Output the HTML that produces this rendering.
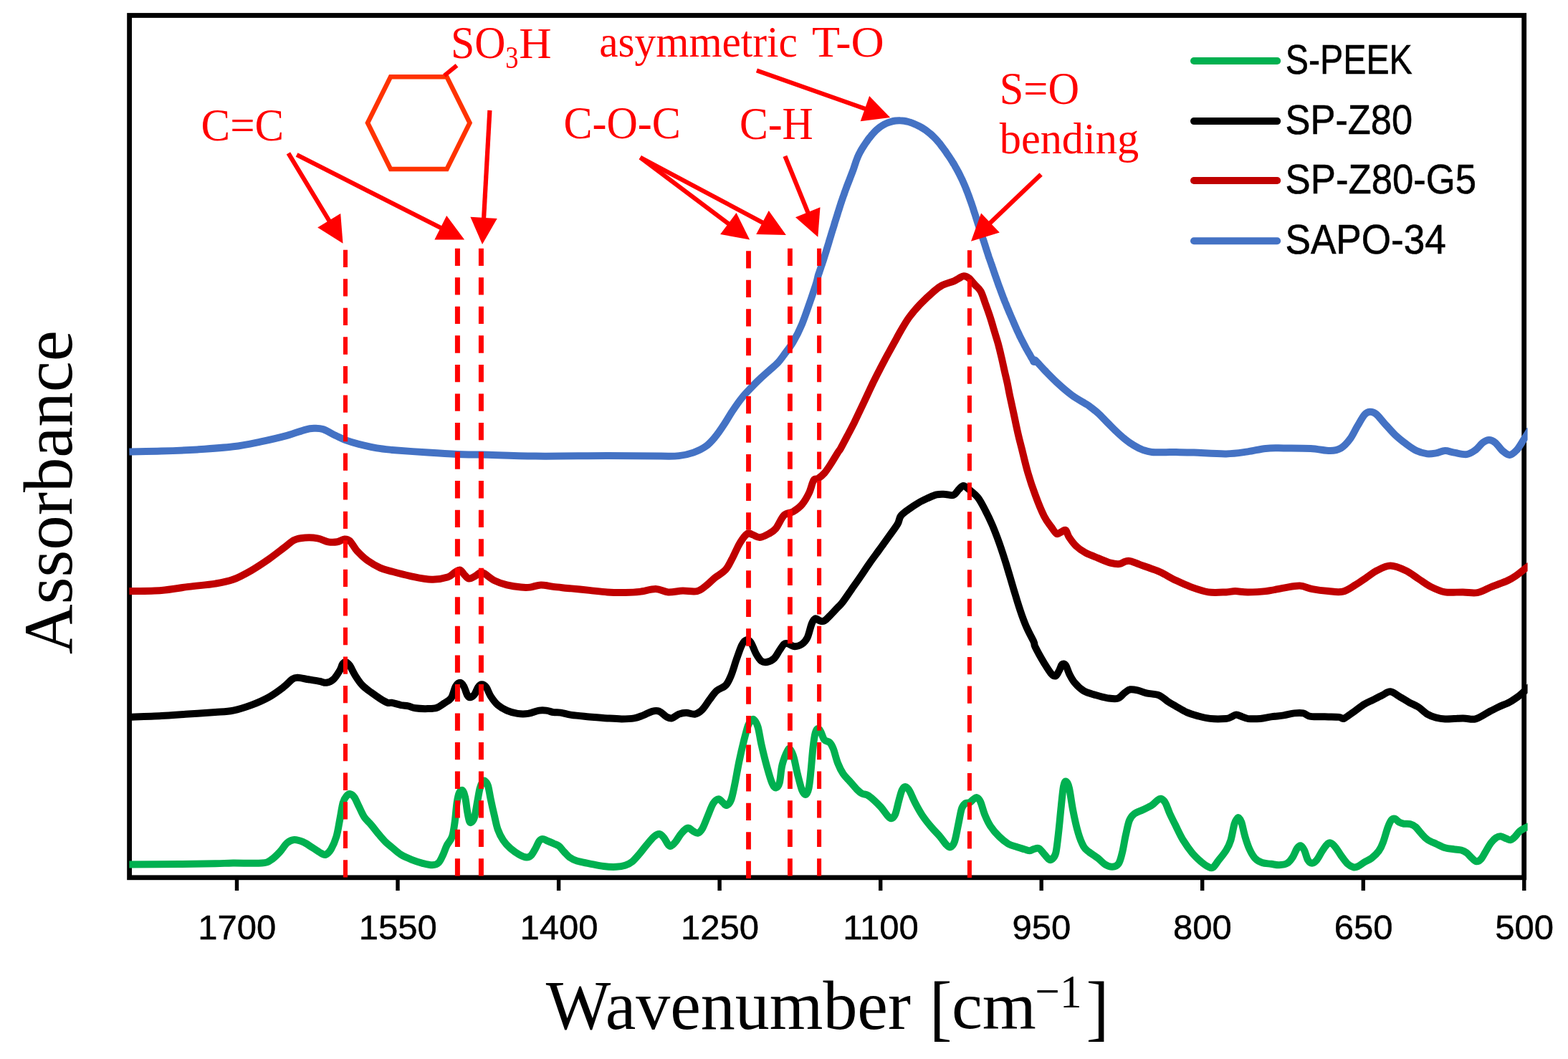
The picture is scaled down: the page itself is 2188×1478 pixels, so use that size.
<!DOCTYPE html>
<html lang="en"><head><meta charset="utf-8"><title>FTIR spectra</title>
<style>html,body{margin:0;padding:0;background:#fff}body{width:2188px;height:1478px;overflow:hidden}svg{display:block}.ser{font-family:"Liberation Serif",serif}.san{font-family:"Liberation Sans",sans-serif}.c{fill:none;stroke-width:10;stroke-linejoin:round;stroke-linecap:butt}</style></head><body>
<svg xmlns="http://www.w3.org/2000/svg" width="2188" height="1478" viewBox="0 0 2188 1478">
<rect width="2188" height="1478" fill="#fff"/>
<rect x="180.6" y="21.5" width="1946.1" height="1203.3" fill="none" stroke="#000" stroke-width="6.8"/>
<clipPath id="cp"><rect x="180.2" y="0" width="1951.4" height="1478"/></clipPath>
<g class="c" clip-path="url(#cp)">
<path d="M180.2,630.4C187.8,630.2 209.5,630.1 225.3,629.6C241.2,629.1 258.7,628.4 275.4,627.4C292.1,626.3 310.8,625.1 325.4,623.3C340.0,621.6 350.5,619.2 363.0,616.6C375.5,614.0 390.1,610.6 400.5,607.8C411.0,605.0 419.3,601.5 425.6,599.8C431.8,598.1 433.9,597.9 438.1,597.8C442.3,597.7 445.6,597.4 450.6,599.1C455.6,600.7 462.9,605.3 468.1,607.8C473.4,610.3 476.5,612.1 481.9,614.1C487.3,616.1 493.4,618.0 500.7,619.8C508.0,621.7 518.0,624.0 525.7,625.4C533.4,626.7 535.1,626.8 547.0,627.9C558.9,628.9 581.8,630.6 597.1,631.6C612.3,632.7 625.9,633.6 638.4,634.1C650.9,634.6 654.0,634.2 672.2,634.6C690.3,635.0 718.1,636.4 747.3,636.6C776.5,636.9 818.2,636.1 847.4,636.1C876.6,636.1 905.8,636.6 922.5,636.6C939.2,636.6 940.0,636.9 947.5,636.1C955.1,635.3 961.3,633.8 967.6,631.6C973.8,629.4 980.1,626.4 985.1,622.8C990.1,619.3 993.4,615.3 997.6,610.3C1001.8,605.3 1006.0,599.1 1010.1,592.8C1014.3,586.5 1018.5,579.0 1022.7,572.8C1026.8,566.5 1031.0,560.5 1035.2,555.3C1039.3,550.0 1043.5,545.9 1047.7,541.5C1051.9,537.1 1056.0,532.9 1060.2,529.0C1064.4,525.0 1068.5,521.5 1072.7,517.7C1076.9,513.9 1081.7,510.2 1085.2,506.4C1088.8,502.7 1090.5,500.0 1094.0,495.2C1097.5,490.4 1102.3,484.7 1106.5,477.6C1110.7,470.6 1114.9,462.6 1119.0,452.6C1123.2,442.6 1128.2,427.2 1131.6,417.6C1134.9,408.0 1137.4,400.5 1139.1,395.0C1140.7,389.6 1140.9,387.6 1141.6,385.0C1142.3,382.4 1142.9,381.2 1143.5,379.3C1144.1,377.4 1144.8,375.5 1145.4,373.6C1146.0,371.7 1146.7,369.8 1147.3,367.9C1147.9,366.0 1148.6,364.1 1149.2,362.2C1149.8,360.3 1150.4,358.4 1151.0,356.4C1151.6,354.5 1152.2,352.6 1152.8,350.7C1153.4,348.8 1153.9,346.9 1154.5,345.0C1155.1,343.0 1155.7,341.1 1156.3,339.2C1156.8,337.3 1157.4,335.4 1158.0,333.4C1158.6,331.5 1159.2,329.6 1159.7,327.7C1160.3,325.8 1160.9,323.9 1161.5,321.9C1162.1,320.0 1162.7,318.1 1163.3,316.2C1163.9,314.3 1164.4,312.4 1165.0,310.4C1165.6,308.5 1166.2,306.6 1166.8,304.7C1167.4,302.8 1168.0,300.9 1168.6,299.0C1169.2,297.0 1169.7,295.1 1170.4,293.2C1171.0,291.3 1171.6,289.4 1172.2,287.5C1172.8,285.6 1173.4,283.7 1174.1,281.8C1174.7,279.9 1175.4,278.0 1176.0,276.1C1176.7,274.2 1177.3,272.3 1178.0,270.4C1178.7,268.5 1179.3,266.6 1180.0,264.8C1180.7,262.9 1181.4,261.0 1182.1,259.1C1182.8,257.2 1183.5,255.4 1184.3,253.5C1185.0,251.6 1185.7,249.8 1186.4,247.9C1187.2,246.0 1187.9,244.2 1188.6,242.3C1189.3,240.4 1190.0,238.6 1190.7,236.7C1191.4,234.8 1192.0,232.9 1192.6,231.0C1193.3,229.1 1193.9,227.2 1194.5,225.3C1195.2,223.5 1195.9,221.6 1196.6,219.8C1197.4,217.9 1198.2,216.1 1199.1,214.3C1200.0,212.6 1200.9,210.8 1201.9,209.1C1202.9,207.4 1204.0,205.7 1205.1,204.0C1206.2,202.3 1207.3,200.6 1208.4,199.0C1209.6,197.4 1210.7,195.7 1211.9,194.1C1213.1,192.5 1214.4,191.0 1215.6,189.4C1216.9,187.9 1218.2,186.4 1219.6,184.9C1220.9,183.5 1222.3,182.1 1223.8,180.7C1225.3,179.4 1226.8,178.2 1228.4,177.0C1230.0,175.9 1231.7,174.8 1233.4,173.9C1235.1,172.9 1236.9,172.1 1238.7,171.4C1240.5,170.7 1242.4,170.1 1244.3,169.6C1246.2,169.1 1248.2,168.8 1250.1,168.5C1252.1,168.3 1254.0,168.2 1256.0,168.3C1257.9,168.3 1259.9,168.5 1261.8,168.7C1263.8,169.0 1265.7,169.5 1267.6,170.0C1269.5,170.5 1271.4,171.2 1273.2,171.9C1275.1,172.6 1276.9,173.4 1278.7,174.2C1280.5,175.0 1282.3,176.0 1284.1,176.9C1285.8,177.9 1287.5,178.9 1289.2,180.0C1290.9,181.1 1292.5,182.2 1294.1,183.4C1295.7,184.6 1297.2,185.8 1298.7,187.1C1300.2,188.4 1301.7,189.8 1303.1,191.2C1304.5,192.6 1305.9,194.1 1307.2,195.6C1308.6,197.1 1309.8,198.6 1311.1,200.1C1312.3,201.7 1313.5,203.3 1314.7,204.9C1316.0,206.5 1317.1,208.1 1318.3,209.7C1319.5,211.4 1320.6,213.0 1321.7,214.7C1322.9,216.3 1324.0,218.0 1325.1,219.6C1326.2,221.3 1327.3,223.0 1328.4,224.7C1329.4,226.4 1330.5,228.1 1331.5,229.8C1332.5,231.5 1333.5,233.3 1334.5,235.0C1335.4,236.8 1336.4,238.5 1337.3,240.3C1338.3,242.1 1339.2,243.9 1340.1,245.7C1340.9,247.5 1341.8,249.3 1342.7,251.1C1343.5,252.9 1344.3,254.7 1345.1,256.5C1345.9,258.4 1346.7,260.2 1347.5,262.1C1348.2,263.9 1348.9,265.8 1349.7,267.7C1350.4,269.5 1351.1,271.4 1351.8,273.3C1352.5,275.2 1353.1,277.1 1353.8,279.0C1354.5,280.8 1355.1,282.7 1355.8,284.6C1356.4,286.5 1357.1,288.4 1357.7,290.3C1358.3,292.2 1358.9,294.1 1359.5,296.1C1360.2,298.0 1360.8,299.9 1361.4,301.8C1362.0,303.7 1362.6,305.6 1363.2,307.5C1363.8,309.4 1364.4,311.3 1365.0,313.2C1365.7,315.1 1366.3,317.0 1366.9,318.9C1367.5,320.9 1368.2,322.8 1368.8,324.7C1369.4,326.6 1370.1,328.5 1370.7,330.4C1371.3,332.3 1371.9,334.2 1372.6,336.1C1373.2,338.0 1373.8,339.9 1374.4,341.8C1375.0,343.7 1375.6,345.6 1376.2,347.5C1376.8,349.4 1377.4,351.3 1378.1,353.3C1378.7,355.2 1379.3,357.1 1379.9,359.0C1380.6,360.8 1381.3,362.7 1381.9,364.6C1382.6,366.5 1383.3,368.4 1383.9,370.3C1384.6,372.2 1385.2,374.1 1385.9,376.0C1386.5,377.9 1387.2,379.8 1387.8,381.7C1388.5,383.6 1389.1,385.5 1389.8,387.3C1390.4,389.2 1391.1,391.1 1391.8,393.0C1392.4,394.9 1393.1,396.8 1393.8,398.7C1394.5,400.6 1395.2,402.4 1395.9,404.3C1396.6,406.2 1397.3,408.1 1398.0,410.0C1398.7,411.8 1399.4,413.7 1400.1,415.6C1400.9,417.4 1401.6,419.3 1402.3,421.2C1403.1,423.0 1403.8,424.9 1404.6,426.7C1405.3,428.6 1406.1,430.4 1406.9,432.3C1407.7,434.1 1408.4,436.0 1409.2,437.8C1410.0,439.7 1410.8,441.5 1411.6,443.4C1412.4,445.2 1413.2,447.0 1414.0,448.9C1414.8,450.7 1415.6,452.6 1416.4,454.4C1417.2,456.2 1418.0,458.0 1418.8,459.9C1419.7,461.7 1420.5,463.5 1421.3,465.3C1422.2,467.1 1423.0,469.0 1423.9,470.8C1424.8,472.6 1425.7,474.4 1426.6,476.1C1427.5,477.9 1428.4,479.7 1429.4,481.5C1430.3,483.2 1431.3,485.0 1432.2,486.8C1433.2,488.5 1434.2,490.2 1435.2,492.0C1436.2,493.7 1437.2,495.5 1438.2,497.2C1439.2,498.9 1440.4,501.1 1441.2,502.4C1441.9,503.7 1442.2,505.0 1442.7,505.0C1443.2,505.0 1442.1,500.8 1444.5,502.7C1446.9,504.6 1452.1,510.9 1457.2,516.3C1462.4,521.6 1469.1,528.7 1475.5,534.5C1481.9,540.4 1489.2,546.8 1495.6,551.5C1502.0,556.3 1509.9,560.4 1513.9,562.9C1517.9,565.4 1516.6,564.2 1519.6,566.5C1522.6,568.8 1527.9,572.8 1532.1,576.5C1536.3,580.3 1540.4,584.9 1544.6,589.1C1548.8,593.2 1553.0,597.6 1557.1,601.6C1561.3,605.5 1565.5,609.5 1569.7,612.8C1573.8,616.2 1578.0,619.1 1582.2,621.6C1586.3,624.1 1590.5,626.3 1594.7,627.9C1598.9,629.4 1600.9,630.3 1607.2,630.9C1613.5,631.4 1626.6,631.1 1632.2,631.1C1637.9,631.1 1635.4,631.0 1641.0,631.1C1646.6,631.2 1654.4,631.2 1666.0,631.6C1677.7,632.0 1698.6,633.6 1711.1,633.4C1723.6,633.2 1732.0,631.6 1741.1,630.4C1750.3,629.1 1757.8,626.7 1766.2,625.9C1774.5,625.0 1780.8,625.4 1791.2,625.4C1801.6,625.4 1817.9,625.2 1828.8,625.9C1839.6,626.5 1849.2,629.2 1856.3,629.1C1863.4,629.0 1866.7,628.1 1871.3,625.4C1875.9,622.6 1880.1,617.8 1883.8,612.8C1887.6,607.8 1890.5,600.9 1893.8,595.3C1897.2,589.7 1900.9,582.5 1903.9,579.0C1906.8,575.6 1908.7,575.0 1911.4,574.8C1914.1,574.6 1916.8,575.2 1920.1,577.8C1923.5,580.4 1927.0,585.5 1931.4,590.3C1935.8,595.1 1941.4,601.8 1946.4,606.6C1951.4,611.4 1956.4,615.3 1961.4,619.1C1966.4,622.8 1971.5,626.7 1976.5,629.1C1981.5,631.5 1986.9,632.8 1991.5,633.4C1996.1,633.9 1999.8,633.1 2004.0,632.4C2008.2,631.7 2012.3,629.2 2016.5,629.1C2020.7,629.0 2024.0,630.8 2029.0,631.6C2034.0,632.4 2041.5,634.7 2046.6,634.1C2051.6,633.5 2055.3,630.6 2059.1,627.9C2062.8,625.1 2066.0,620.1 2069.1,617.8C2072.2,615.5 2074.9,614.1 2077.8,614.1C2080.8,614.1 2083.5,615.3 2086.6,617.8C2089.7,620.3 2093.3,626.3 2096.6,629.1C2100.0,631.9 2103.3,635.1 2106.6,634.9C2110.0,634.7 2113.3,631.5 2116.7,627.9C2120.0,624.2 2123.5,617.6 2126.7,612.8C2129.8,608.0 2134.0,601.4 2135.4,599.1" stroke="#4472c4"/>
<path d="M180.2,825.1C187.8,824.9 211.5,824.9 225.3,823.9C239.1,822.8 250.3,820.4 262.9,818.9C275.4,817.3 290.0,816.3 300.4,814.6C310.8,812.9 317.1,811.9 325.4,808.8C333.8,805.8 342.1,801.1 350.5,796.3C358.8,791.5 368.0,785.3 375.5,780.1C383.0,774.8 389.7,769.4 395.5,765.0C401.4,760.7 405.6,756.2 410.6,753.8C415.6,751.3 420.2,750.9 425.6,750.5C431.0,750.1 437.7,750.3 443.1,751.3C448.5,752.2 453.5,755.4 458.1,756.3C462.7,757.1 466.9,756.9 470.6,756.3C474.4,755.6 477.7,752.7 480.7,752.5C483.6,752.3 485.2,752.3 488.2,755.0C491.1,757.7 494.0,764.2 498.2,768.8C502.4,773.4 507.8,778.6 513.2,782.6C518.6,786.5 525.1,790.1 530.7,792.6C536.4,795.1 540.1,795.7 547.0,797.6C553.9,799.5 562.9,802.0 572.0,803.8C581.2,805.7 593.3,808.6 602.1,808.8C610.8,809.1 619.2,807.3 624.6,805.6C630.0,803.9 631.7,800.5 634.6,798.8C637.5,797.2 639.8,795.0 642.1,795.6C644.4,796.2 646.3,800.6 648.4,802.6C650.5,804.6 652.1,807.4 654.6,807.6C657.2,807.8 660.7,805.3 663.4,803.8C666.1,802.4 668.6,799.2 670.9,798.8C673.2,798.4 674.0,799.5 677.2,801.3C680.3,803.2 684.7,807.6 689.7,810.1C694.7,812.6 701.0,814.8 707.2,816.4C713.5,817.9 721.8,819.1 727.2,819.6C732.7,820.2 735.2,820.2 739.8,819.6C744.4,819.1 749.4,816.5 754.8,816.4C760.2,816.2 765.2,818.0 772.3,818.9C779.4,819.7 789.0,820.5 797.3,821.4C805.7,822.2 814.0,823.0 822.4,823.9C830.7,824.7 839.1,825.9 847.4,826.4C855.8,826.9 864.9,827.0 872.4,826.9C880.0,826.8 885.4,826.7 892.5,825.9C899.6,825.1 908.3,822.0 915.0,822.1C921.7,822.2 926.3,826.0 932.5,826.4C938.8,826.8 945.9,824.8 952.6,824.6C959.2,824.4 967.2,826.3 972.6,825.1C978.0,823.9 980.9,820.7 985.1,817.6C989.3,814.5 993.0,810.1 997.6,806.3C1002.2,802.6 1008.5,799.9 1012.6,795.1C1016.8,790.3 1019.3,783.8 1022.7,777.6C1026.0,771.3 1029.3,762.9 1032.7,757.5C1036.0,752.1 1039.8,746.9 1042.7,745.0C1045.6,743.1 1047.3,745.4 1050.2,746.3C1053.1,747.1 1056.4,750.2 1060.2,750.0C1064.0,749.8 1069.0,747.1 1072.7,745.0C1076.5,742.9 1079.2,741.8 1082.7,737.5C1086.3,733.2 1090.0,723.1 1094.0,719.2C1098.0,715.3 1102.3,716.7 1106.5,714.2C1110.7,711.7 1115.3,708.6 1119.0,704.2C1122.8,699.8 1126.3,693.6 1129.0,687.9C1131.8,682.3 1133.2,673.7 1135.3,670.4C1137.4,667.1 1139.1,669.6 1141.6,667.9C1144.1,666.2 1147.4,663.7 1150.3,660.4C1153.2,657.1 1156.0,652.7 1159.1,647.9C1162.2,643.1 1166.8,635.3 1169.1,631.6C1171.4,628.0 1170.7,629.9 1173.0,625.9C1175.2,622.0 1179.5,613.8 1182.7,607.7C1185.9,601.6 1189.1,595.5 1192.2,589.4C1195.2,583.3 1198.0,577.2 1200.9,571.1C1203.8,565.0 1206.7,558.9 1209.5,552.8C1212.4,546.7 1215.2,540.6 1218.1,534.5C1221.1,528.4 1224.1,522.3 1227.3,516.3C1230.4,510.2 1233.7,504.1 1236.9,498.0C1240.2,491.9 1243.7,485.8 1247.0,479.7C1250.4,473.6 1253.5,467.5 1257.1,461.4C1260.6,455.3 1263.9,449.2 1268.4,443.1C1272.9,437.0 1278.1,430.9 1283.9,424.8C1289.7,418.8 1298.0,411.0 1303.1,406.6C1308.2,402.1 1310.0,400.7 1314.6,398.3C1319.3,396.0 1327.1,394.0 1331.1,392.3C1335.1,390.6 1336.1,389.5 1338.4,388.3C1340.7,387.1 1342.5,385.2 1344.8,385.2C1347.1,385.2 1349.5,386.2 1352.1,388.3C1354.7,390.3 1357.6,394.4 1360.3,397.4C1363.1,400.5 1366.1,402.0 1368.6,406.6C1371.1,411.1 1373.2,418.8 1375.4,424.8C1377.6,430.9 1379.8,437.0 1381.8,443.1C1383.8,449.2 1385.5,455.3 1387.3,461.4C1389.1,467.5 1391.1,473.6 1392.8,479.7C1394.4,485.8 1395.9,491.9 1397.3,498.0C1398.8,504.1 1400.0,510.2 1401.4,516.3C1402.7,522.3 1404.3,528.4 1405.6,534.5C1406.9,540.6 1407.9,546.7 1409.2,552.8C1410.5,558.9 1411.9,565.0 1413.2,571.1C1414.6,577.2 1415.8,583.3 1417.1,589.4C1418.4,595.5 1419.7,601.6 1421.1,607.7C1422.5,613.8 1423.4,617.2 1425.7,625.9C1427.9,634.7 1431.3,649.6 1434.5,660.4C1437.6,671.1 1440.7,680.4 1444.5,690.4C1448.2,700.5 1453.2,713.0 1457.0,720.5C1460.8,728.0 1464.1,731.4 1467.0,735.5C1469.9,739.6 1472.2,743.8 1474.5,745.0C1476.8,746.2 1478.7,743.3 1480.8,742.5C1482.9,741.7 1485.2,738.7 1487.0,740.0C1488.9,741.3 1489.5,746.3 1492.0,750.0C1494.5,753.8 1498.3,759.0 1502.1,762.5C1505.8,766.1 1509.6,768.6 1514.6,771.3C1519.6,774.0 1526.3,776.4 1532.1,778.8C1537.9,781.2 1544.6,784.2 1549.6,785.6C1554.6,786.9 1558.8,787.4 1562.1,787.1C1565.5,786.8 1567.1,784.5 1569.7,783.8C1572.2,783.1 1573.8,782.4 1577.2,783.1C1580.5,783.7 1584.7,785.8 1589.7,787.6C1594.7,789.4 1602.2,791.9 1607.2,793.8C1612.2,795.7 1614.1,796.1 1619.7,798.8C1625.4,801.5 1634.1,806.8 1641.0,810.1C1647.9,813.4 1653.5,816.1 1661.0,818.9C1668.5,821.6 1677.7,825.1 1686.1,826.4C1694.4,827.6 1704.8,826.6 1711.1,826.4C1717.4,826.2 1718.6,825.1 1723.6,825.1C1728.6,825.1 1734.0,826.4 1741.1,826.4C1748.2,826.4 1757.8,826.1 1766.2,825.1C1774.5,824.2 1783.3,821.9 1791.2,820.6C1799.1,819.4 1807.1,817.4 1813.7,817.6C1820.4,817.9 1824.6,820.9 1831.3,822.1C1837.9,823.4 1846.7,824.5 1853.8,825.1C1860.9,825.7 1867.6,827.1 1873.8,825.6C1880.1,824.2 1885.9,819.6 1891.3,816.4C1896.8,813.1 1901.4,809.7 1906.4,806.3C1911.4,803.0 1915.8,799.1 1921.4,796.3C1927.0,793.5 1933.5,789.6 1940.2,789.6C1946.8,789.6 1955.0,793.3 1961.4,796.3C1967.9,799.3 1973.1,803.8 1979.0,807.6C1984.8,811.3 1990.2,815.7 1996.5,818.9C2002.7,822.0 2009.0,825.1 2016.5,826.4C2024.0,827.6 2034.0,826.2 2041.5,826.4C2049.1,826.5 2054.9,828.4 2061.6,827.1C2068.3,825.9 2074.5,821.7 2081.6,818.9C2088.7,816.0 2098.3,812.8 2104.1,810.1C2110.0,807.4 2112.7,805.3 2116.7,802.6C2120.6,799.9 2124.6,796.3 2127.9,793.8C2131.3,791.3 2135.2,788.6 2136.7,787.6" stroke="#c00000"/>
<path d="M180.2,1000.9C187.8,1000.6 211.5,999.8 225.3,999.1C239.1,998.4 250.3,997.4 262.9,996.6C275.4,995.8 290.0,994.9 300.4,994.1C310.8,993.3 317.1,993.3 325.4,991.6C333.8,989.9 342.1,987.2 350.5,984.1C358.8,981.0 368.0,977.0 375.5,972.8C383.0,968.6 390.1,963.2 395.5,959.1C401.0,954.9 404.7,950.0 408.1,947.8C411.4,945.6 411.8,945.7 415.6,945.8C419.3,945.9 425.6,947.5 430.6,948.3C435.6,949.1 441.4,950.0 445.6,950.8C449.8,951.5 452.3,953.3 455.6,952.8C459.0,952.3 462.5,950.7 465.6,947.8C468.8,944.9 472.3,938.8 474.4,935.3C476.5,931.7 476.8,928.4 478.2,926.5C479.5,924.6 481.0,923.6 482.7,924.0C484.3,924.4 486.0,925.9 488.2,929.0C490.3,932.1 492.8,938.2 495.7,942.8C498.6,947.4 501.9,952.6 505.7,956.5C509.4,960.5 514.0,963.4 518.2,966.6C522.4,969.7 527.0,972.9 530.7,975.3C534.5,977.7 538.0,979.9 540.7,980.8C543.5,981.7 543.9,980.3 547.0,980.8C550.1,981.4 555.8,983.3 559.5,984.1C563.3,984.8 566.2,984.6 569.5,985.3C572.9,986.0 575.0,987.7 579.5,988.3C584.1,989.0 592.1,989.2 597.1,989.1C602.1,989.0 605.8,989.1 609.6,987.8C613.3,986.6 616.3,983.9 619.6,981.6C622.9,979.3 626.9,978.0 629.6,974.1C632.3,970.1 633.8,961.3 635.9,957.8C638.0,954.3 640.3,952.8 642.1,952.8C644.0,952.8 645.5,954.9 647.1,957.8C648.8,960.7 650.7,967.7 652.1,970.3C653.6,972.9 654.2,973.5 655.9,973.3C657.6,973.1 660.3,971.4 662.2,969.1C664.0,966.7 665.5,961.3 667.2,959.1C668.8,956.8 670.3,955.3 672.2,955.3C674.0,955.3 676.3,956.3 678.4,959.1C680.5,961.8 682.0,967.4 684.7,971.6C687.4,975.7 690.9,980.7 694.7,984.1C698.5,987.4 702.6,989.6 707.2,991.6C711.8,993.6 717.2,995.1 722.2,995.9C727.2,996.6 732.3,996.6 737.3,995.9C742.3,995.1 748.1,992.3 752.3,991.6C756.5,990.9 759.0,991.2 762.3,991.6C765.6,992.0 769.0,993.6 772.3,994.1C775.6,994.6 778.2,994.0 782.3,994.6C786.5,995.2 790.7,996.9 797.3,997.9C804.0,998.8 814.0,999.6 822.4,1000.4C830.7,1001.1 839.9,1001.9 847.4,1002.4C854.9,1002.9 861.2,1003.4 867.4,1003.4C873.7,1003.4 880.0,1003.2 885.0,1002.4C890.0,1001.5 893.3,999.9 897.5,998.4C901.7,996.8 906.2,993.8 910.0,992.8C913.8,991.9 916.7,991.6 920.0,992.8C923.3,994.1 927.1,998.8 930.0,1000.4C932.9,1001.9 934.6,1003.0 937.5,1002.4C940.5,1001.7 944.2,997.9 947.5,996.6C950.9,995.4 953.8,994.8 957.6,994.8C961.3,994.8 966.3,997.4 970.1,996.6C973.8,995.9 976.8,993.7 980.1,990.3C983.4,987.0 986.8,981.0 990.1,976.6C993.4,972.2 996.4,967.4 1000.1,964.1C1003.9,960.7 1009.3,960.1 1012.6,956.5C1016.0,953.0 1017.6,948.8 1020.1,942.8C1022.7,936.7 1025.2,927.3 1027.7,920.2C1030.2,913.2 1032.9,904.7 1035.2,900.2C1037.5,895.7 1039.3,893.8 1041.4,893.2C1043.5,892.6 1045.4,893.2 1047.7,896.5C1050.0,899.7 1052.7,908.4 1055.2,912.7C1057.7,917.1 1060.2,920.9 1062.7,922.8C1065.2,924.6 1067.3,924.6 1070.2,924.0C1073.1,923.4 1077.3,921.7 1080.2,919.0C1083.2,916.3 1085.4,911.1 1087.7,907.7C1090.0,904.4 1092.1,900.6 1094.0,899.0C1095.9,897.4 1096.5,897.7 1099.0,898.2C1101.5,898.8 1105.7,902.1 1109.0,902.2C1112.4,902.3 1116.1,901.0 1119.0,899.0C1122.0,897.0 1124.2,895.0 1126.5,890.2C1128.8,885.4 1130.9,874.7 1132.8,870.2C1134.7,865.7 1135.9,863.8 1137.8,863.2C1139.7,862.5 1142.0,865.9 1144.1,866.4C1146.2,867.0 1147.8,867.8 1150.3,866.4C1152.8,865.0 1156.0,861.3 1159.1,858.2C1162.2,855.0 1166.4,850.5 1169.1,847.6C1171.8,844.8 1172.2,845.2 1175.3,841.1C1178.5,837.0 1183.9,828.9 1188.1,822.8C1192.4,816.7 1196.8,810.6 1200.9,804.5C1205.1,798.4 1208.9,792.3 1213.2,786.3C1217.4,780.2 1222.1,774.1 1226.5,768.0C1230.9,761.9 1235.4,755.8 1239.7,749.7C1244.0,743.6 1249.6,736.3 1252.5,731.4C1255.3,726.5 1254.3,723.8 1256.7,720.5C1259.1,717.2 1262.6,714.8 1266.7,711.7C1270.9,708.6 1277.2,704.4 1281.8,701.7C1286.3,699.0 1290.1,697.3 1294.3,695.4C1298.4,693.6 1302.6,691.4 1306.8,690.4C1311.0,689.5 1315.3,689.9 1319.3,689.9C1323.3,690.0 1327.4,692.1 1330.6,690.9C1333.7,689.8 1335.8,685.1 1338.1,682.9C1340.4,680.8 1342.0,677.9 1344.3,677.9C1346.6,677.9 1348.4,680.1 1351.9,682.9C1355.3,685.7 1361.0,689.8 1364.9,694.8C1368.8,699.9 1372.1,707.0 1375.3,713.1C1378.5,719.2 1381.4,725.3 1384.1,731.4C1386.8,737.5 1389.1,743.6 1391.4,749.7C1393.7,755.8 1395.8,761.9 1397.8,768.0C1399.9,774.1 1401.8,780.2 1403.7,786.3C1405.6,792.3 1407.3,798.4 1409.2,804.5C1411.0,810.6 1412.8,816.7 1414.6,822.8C1416.5,828.9 1418.2,835.0 1420.1,841.1C1422.0,847.2 1423.9,853.3 1426.2,859.4C1428.4,865.5 1430.7,871.6 1433.5,877.7C1436.2,883.8 1440.8,891.8 1442.6,895.9C1444.4,900.1 1442.1,897.8 1444.5,902.7C1446.9,907.6 1453.2,919.0 1457.0,925.3C1460.8,931.5 1464.3,937.3 1467.0,940.3C1469.7,943.3 1471.4,944.1 1473.3,943.3C1475.1,942.4 1476.8,937.9 1478.3,935.3C1479.7,932.6 1480.6,928.4 1482.0,927.3C1483.5,926.1 1485.4,926.1 1487.0,928.3C1488.7,930.4 1490.0,936.2 1492.0,940.3C1494.1,944.4 1496.2,948.8 1499.6,952.8C1502.9,956.8 1507.1,961.1 1512.1,964.1C1517.1,967.0 1524.2,968.6 1529.6,970.3C1535.0,972.0 1539.6,973.3 1544.6,974.1C1549.6,974.8 1555.5,976.1 1559.6,974.8C1563.8,973.6 1566.7,968.6 1569.7,966.6C1572.6,964.5 1574.2,962.8 1577.2,962.3C1580.1,961.8 1583.4,962.5 1587.2,963.3C1590.9,964.1 1594.7,966.1 1599.7,967.3C1604.7,968.5 1612.2,968.4 1617.2,970.3C1622.2,972.3 1625.8,976.5 1629.7,979.1C1633.7,981.7 1636.6,983.3 1641.0,985.8C1645.4,988.3 1651.0,991.9 1656.0,994.1C1661.0,996.3 1665.6,997.6 1671.0,999.1C1676.5,1000.6 1681.9,1002.2 1688.6,1002.9C1695.2,1003.5 1706.1,1003.3 1711.1,1002.9C1716.1,1002.4 1716.3,1001.3 1718.6,1000.4C1720.9,999.4 1722.4,997.4 1724.9,997.4C1727.4,997.4 1730.9,999.4 1733.6,1000.4C1736.3,1001.3 1737.0,1002.4 1741.1,1002.9C1745.3,1003.3 1753.2,1003.3 1758.7,1002.9C1764.1,1002.4 1768.3,1001.1 1773.7,1000.4C1779.1,999.6 1785.8,999.2 1791.2,998.4C1796.6,997.5 1801.6,995.9 1806.2,995.4C1810.8,994.8 1815.0,994.6 1818.7,995.4C1822.5,996.1 1822.9,999.0 1828.8,999.9C1834.6,1000.7 1847.1,1000.2 1853.8,1000.4C1860.5,1000.5 1865.3,1000.4 1868.8,1000.9C1872.4,1001.3 1872.2,1003.8 1875.1,1002.9C1878.0,1001.9 1881.5,998.7 1886.3,995.4C1891.1,992.0 1898.9,986.0 1903.9,982.8C1908.9,979.7 1912.2,978.7 1916.4,976.6C1920.5,974.5 1924.9,972.2 1928.9,970.3C1932.9,968.4 1936.0,964.9 1940.2,965.3C1944.3,965.7 1949.5,970.3 1953.9,972.8C1958.3,975.3 1962.3,978.0 1966.4,980.3C1970.6,982.6 1974.8,983.9 1979.0,986.6C1983.1,989.3 1987.3,994.1 1991.5,996.6C1995.7,999.1 1999.8,1000.5 2004.0,1001.6C2008.2,1002.7 2010.3,1003.2 2016.5,1003.4C2022.8,1003.5 2034.5,1002.4 2041.5,1002.4C2048.6,1002.4 2052.8,1004.9 2059.1,1003.4C2065.3,1001.8 2073.7,995.6 2079.1,992.8C2084.5,990.1 2087.0,988.8 2091.6,986.6C2096.2,984.4 2102.0,982.3 2106.6,979.8C2111.2,977.3 2115.6,974.2 2119.2,971.6C2122.7,968.9 2125.0,966.6 2127.9,964.1C2130.8,961.6 2135.2,957.8 2136.7,956.5" stroke="#000"/>
<path d="M180.2,1206.5C191.9,1206.4 230.3,1206.2 250.3,1206.0C270.4,1205.8 287.9,1205.5 300.4,1205.3C312.9,1205.0 314.6,1204.7 325.4,1204.5C336.3,1204.4 356.7,1205.2 365.5,1204.5C374.3,1203.8 373.8,1202.9 378.0,1200.3C382.2,1197.7 386.8,1193.0 390.5,1189.0C394.3,1185.0 397.2,1179.3 400.5,1176.5C403.9,1173.7 406.8,1172.2 410.6,1172.0C414.3,1171.8 418.9,1173.4 423.1,1175.2C427.3,1177.0 431.4,1180.2 435.6,1182.8C439.8,1185.3 445.0,1189.1 448.1,1190.8C451.2,1192.4 452.1,1193.7 454.4,1192.8C456.7,1191.8 459.4,1189.4 461.9,1185.3C464.4,1181.1 467.3,1174.8 469.4,1167.7C471.5,1160.6 472.9,1150.6 474.4,1142.7C475.9,1134.8 477.2,1125.4 478.7,1120.2C480.1,1114.9 481.5,1113.4 483.2,1111.4C484.8,1109.4 486.8,1107.9 488.7,1108.1C490.5,1108.4 492.4,1109.8 494.4,1112.7C496.4,1115.5 498.4,1120.6 500.7,1125.2C503.0,1129.8 505.3,1135.8 508.2,1140.2C511.1,1144.6 514.9,1147.5 518.2,1151.5C521.5,1155.4 524.9,1160.0 528.2,1164.0C531.6,1167.9 535.1,1172.1 538.2,1175.2C541.4,1178.4 543.5,1179.8 547.0,1182.8C550.5,1185.7 554.9,1189.9 559.5,1192.8C564.1,1195.6 569.5,1197.8 574.5,1199.8C579.5,1201.8 584.8,1203.5 589.6,1204.8C594.4,1206.0 599.6,1207.4 603.3,1207.3C607.1,1207.2 609.6,1206.4 612.1,1204.0C614.6,1201.6 616.5,1196.7 618.3,1192.8C620.2,1188.8 621.3,1184.4 623.4,1180.2C625.4,1176.1 629.0,1173.2 630.9,1167.7C632.7,1162.3 633.5,1155.6 634.6,1147.7C635.7,1139.8 636.6,1127.0 637.6,1120.2C638.7,1113.3 639.6,1109.2 640.9,1106.4C642.2,1103.6 644.0,1102.1 645.4,1103.1C646.8,1104.2 648.0,1107.7 649.1,1112.7C650.3,1117.6 651.1,1127.0 652.1,1132.7C653.1,1138.3 654.1,1144.0 655.1,1146.5C656.2,1148.9 657.2,1148.2 658.4,1147.2C659.6,1146.2 660.9,1144.7 662.2,1140.2C663.4,1135.7 664.7,1126.8 665.9,1120.2C667.2,1113.5 668.4,1104.9 669.7,1100.1C670.9,1095.3 672.3,1093.0 673.4,1091.4C674.6,1089.7 675.4,1089.3 676.7,1090.1C677.9,1091.0 679.6,1092.2 680.9,1096.4C682.3,1100.6 683.2,1108.3 684.7,1115.2C686.1,1122.0 688.0,1130.6 689.7,1137.7C691.4,1144.8 692.6,1151.9 694.7,1157.7C696.8,1163.6 699.3,1168.4 702.2,1172.7C705.1,1177.1 708.5,1180.7 712.2,1184.0C716.0,1187.3 721.0,1190.7 724.7,1192.8C728.5,1194.9 732.0,1196.3 734.8,1196.5C737.5,1196.7 738.9,1196.1 741.0,1194.0C743.1,1191.9 745.4,1187.3 747.3,1184.0C749.2,1180.7 750.6,1176.2 752.3,1174.0C754.0,1171.8 755.2,1171.0 757.3,1171.0C759.4,1171.0 762.3,1172.9 764.8,1174.0C767.3,1175.0 769.8,1176.1 772.3,1177.2C774.8,1178.4 777.3,1178.8 779.8,1180.7C782.3,1182.7 784.8,1186.4 787.3,1189.0C789.8,1191.6 791.9,1194.4 794.8,1196.5C797.8,1198.6 800.3,1200.1 804.9,1201.5C809.4,1203.0 816.1,1204.0 822.4,1205.3C828.6,1206.5 836.1,1208.3 842.4,1209.0C848.7,1209.8 854.9,1210.0 859.9,1209.8C864.9,1209.6 868.7,1209.0 872.4,1207.8C876.2,1206.5 879.1,1205.0 882.5,1202.3C885.8,1199.6 889.1,1195.4 892.5,1191.5C895.8,1187.6 899.1,1183.0 902.5,1179.0C905.8,1175.0 909.6,1170.2 912.5,1167.7C915.4,1165.2 917.7,1163.8 920.0,1164.0C922.3,1164.2 924.2,1166.5 926.3,1169.0C928.4,1171.5 930.9,1177.0 932.5,1179.0C934.2,1181.0 934.6,1181.4 936.3,1180.7C938.0,1180.1 940.2,1178.0 942.5,1175.2C944.8,1172.4 947.5,1167.1 950.1,1164.0C952.6,1160.8 955.7,1157.8 957.6,1156.5C959.4,1155.1 959.6,1155.1 961.3,1155.7C963.0,1156.3 965.5,1159.1 967.6,1160.2C969.7,1161.4 971.7,1163.3 973.8,1162.7C975.9,1162.1 977.8,1160.4 980.1,1156.5C982.4,1152.5 985.1,1144.8 987.6,1138.9C990.1,1133.1 992.6,1125.4 995.1,1121.4C997.6,1117.5 1000.3,1115.4 1002.6,1115.2C1004.9,1114.9 1007.0,1118.7 1008.9,1120.2C1010.8,1121.6 1012.0,1124.5 1013.9,1123.9C1015.8,1123.3 1018.3,1121.2 1020.1,1116.4C1022.0,1111.6 1023.3,1104.1 1025.2,1095.1C1027.0,1086.2 1029.3,1072.6 1031.4,1062.6C1033.5,1052.6 1035.6,1043.4 1037.7,1035.0C1039.8,1026.7 1042.1,1017.5 1043.9,1012.5C1045.8,1007.5 1047.5,1006.3 1048.9,1005.0C1050.4,1003.8 1051.2,1003.3 1052.7,1005.0C1054.2,1006.7 1056.0,1009.2 1057.7,1015.0C1059.4,1020.9 1060.6,1030.9 1062.7,1040.1C1064.8,1049.2 1067.7,1061.1 1070.2,1070.1C1072.7,1079.1 1075.6,1089.0 1077.7,1093.9C1079.8,1098.8 1081.1,1099.8 1082.7,1099.6C1084.4,1099.4 1086.3,1098.0 1087.7,1092.6C1089.2,1087.3 1089.6,1075.1 1091.5,1067.6C1093.4,1060.1 1097.1,1051.1 1099.0,1047.6C1100.9,1044.0 1101.3,1044.6 1102.8,1046.3C1104.2,1048.0 1106.1,1051.9 1107.8,1057.6C1109.4,1063.2 1110.9,1072.6 1112.8,1080.1C1114.7,1087.6 1117.2,1097.8 1119.0,1102.6C1120.9,1107.4 1122.5,1109.3 1124.0,1108.9C1125.6,1108.5 1127.3,1105.8 1128.5,1100.1C1129.8,1094.5 1130.6,1084.7 1131.6,1075.1C1132.6,1065.5 1133.5,1051.3 1134.6,1042.6C1135.6,1033.8 1136.6,1026.8 1137.8,1022.5C1139.0,1018.3 1140.3,1017.2 1141.6,1017.0C1142.8,1016.8 1143.9,1018.7 1145.3,1021.3C1146.8,1023.9 1148.2,1030.0 1150.3,1032.5C1152.4,1035.0 1155.8,1034.2 1157.8,1036.3C1159.9,1038.4 1161.0,1040.3 1162.8,1045.1C1164.7,1049.9 1166.8,1059.2 1169.1,1065.1C1171.4,1070.9 1173.7,1075.7 1176.6,1080.1C1179.5,1084.5 1183.3,1087.6 1186.6,1091.4C1190.0,1095.1 1193.9,1099.9 1196.6,1102.6C1199.4,1105.4 1200.6,1106.5 1202.9,1107.6C1205.2,1108.8 1207.7,1108.2 1210.4,1109.7C1213.1,1111.1 1216.0,1113.6 1219.2,1116.4C1222.3,1119.2 1226.1,1122.9 1229.2,1126.4C1232.3,1130.0 1235.6,1135.1 1237.9,1137.7C1240.3,1140.3 1241.6,1142.4 1243.5,1142.2C1245.3,1142.0 1247.4,1140.5 1249.2,1136.4C1251.0,1132.3 1252.6,1123.3 1254.2,1117.7C1255.8,1112.0 1257.1,1105.9 1258.7,1102.6C1260.3,1099.4 1262.0,1097.9 1263.7,1098.1C1265.5,1098.3 1267.1,1100.2 1269.2,1103.9C1271.4,1107.6 1273.8,1114.5 1276.8,1120.2C1279.7,1125.8 1283.0,1132.1 1286.8,1137.7C1290.5,1143.3 1295.1,1149.0 1299.3,1154.0C1303.5,1159.0 1308.3,1163.6 1311.8,1167.7C1315.3,1171.9 1318.1,1176.6 1320.6,1179.0C1323.0,1181.4 1324.4,1182.9 1326.3,1182.2C1328.2,1181.6 1330.1,1180.2 1331.8,1175.2C1333.6,1170.3 1335.2,1160.4 1336.8,1152.7C1338.5,1145.0 1340.2,1134.1 1341.8,1128.9C1343.5,1123.7 1345.0,1122.9 1346.8,1121.4C1348.7,1120.0 1351.2,1121.1 1353.1,1120.2C1355.0,1119.2 1356.4,1116.8 1358.1,1115.7C1359.8,1114.5 1361.5,1112.6 1363.1,1113.2C1364.8,1113.7 1366.2,1114.8 1368.1,1118.9C1370.0,1123.0 1372.1,1132.1 1374.4,1137.7C1376.7,1143.3 1378.6,1147.7 1381.9,1152.7C1385.2,1157.7 1390.2,1163.6 1394.4,1167.7C1398.6,1171.9 1402.8,1175.3 1406.9,1177.7C1411.1,1180.2 1415.7,1181.0 1419.4,1182.2C1423.2,1183.5 1426.5,1184.4 1429.5,1185.3C1432.4,1186.1 1434.7,1187.3 1437.0,1187.3C1439.3,1187.2 1441.1,1185.3 1443.2,1184.8C1445.3,1184.2 1447.4,1183.1 1449.5,1184.0C1451.6,1184.9 1453.5,1187.8 1455.7,1190.3C1458.0,1192.8 1461.2,1197.6 1463.3,1199.0C1465.3,1200.5 1466.6,1200.5 1468.3,1199.0C1469.9,1197.6 1471.8,1196.3 1473.3,1190.3C1474.7,1184.2 1475.8,1173.6 1477.0,1162.7C1478.3,1151.9 1479.6,1136.0 1480.8,1125.2C1481.9,1114.3 1482.9,1103.4 1484.0,1097.6C1485.2,1091.9 1486.2,1090.2 1487.5,1090.6C1488.9,1091.0 1490.5,1093.5 1492.0,1100.1C1493.6,1106.7 1495.0,1119.7 1497.1,1130.2C1499.1,1140.6 1502.1,1154.2 1504.6,1162.7C1507.1,1171.3 1509.6,1177.1 1512.1,1181.5C1514.6,1185.9 1516.2,1186.3 1519.6,1189.0C1522.9,1191.7 1528.3,1194.9 1532.1,1197.8C1535.9,1200.7 1538.8,1204.5 1542.1,1206.5C1545.5,1208.5 1549.0,1210.0 1552.1,1209.8C1555.3,1209.6 1558.6,1208.5 1560.9,1205.3C1563.2,1202.0 1564.2,1196.9 1565.9,1190.3C1567.6,1183.6 1569.2,1172.7 1570.9,1165.2C1572.6,1157.7 1574.0,1150.0 1575.9,1145.2C1577.8,1140.4 1579.0,1138.9 1582.2,1136.4C1585.3,1133.9 1590.5,1132.3 1594.7,1130.2C1598.9,1128.1 1603.9,1126.1 1607.2,1123.9C1610.5,1121.8 1612.6,1118.7 1614.7,1117.2C1616.8,1115.6 1617.8,1114.2 1619.7,1114.7C1621.6,1115.2 1623.9,1116.7 1626.0,1120.2C1628.1,1123.6 1629.7,1129.7 1632.2,1135.2C1634.7,1140.7 1637.9,1147.0 1641.0,1153.2C1644.1,1159.5 1647.3,1166.6 1651.0,1172.7C1654.8,1178.9 1659.4,1185.3 1663.5,1190.3C1667.7,1195.3 1672.3,1199.5 1676.0,1202.8C1679.8,1206.0 1683.3,1208.5 1686.1,1209.8C1688.8,1211.1 1690.0,1212.2 1692.3,1210.8C1694.6,1209.4 1696.7,1205.6 1699.8,1201.5C1703.0,1197.5 1708.2,1191.3 1711.1,1186.5C1714.0,1181.7 1715.5,1178.8 1717.4,1172.7C1719.2,1166.7 1720.9,1155.2 1722.4,1150.2C1723.8,1145.2 1725.1,1144.2 1726.1,1142.7C1727.2,1141.2 1727.6,1140.6 1728.6,1141.4C1729.7,1142.3 1730.9,1143.3 1732.4,1147.7C1733.8,1152.1 1735.5,1161.5 1737.4,1167.7C1739.3,1174.0 1741.3,1180.2 1743.6,1185.3C1745.9,1190.3 1748.2,1194.6 1751.2,1197.8C1754.1,1200.9 1757.4,1202.7 1761.2,1204.0C1764.9,1205.4 1769.7,1205.2 1773.7,1205.8C1777.6,1206.3 1781.2,1207.5 1784.9,1207.3C1788.7,1207.1 1793.1,1206.6 1796.2,1204.8C1799.3,1203.0 1801.4,1200.0 1803.7,1196.5C1806.0,1193.1 1808.1,1186.7 1810.0,1184.0C1811.9,1181.3 1813.3,1179.8 1815.0,1180.2C1816.7,1180.7 1818.3,1183.2 1820.0,1186.5C1821.7,1189.8 1823.2,1197.2 1825.0,1200.3C1826.8,1203.3 1828.7,1204.8 1830.8,1204.8C1832.8,1204.8 1835.1,1203.1 1837.5,1200.3C1839.9,1197.4 1842.7,1191.3 1845.0,1187.8C1847.3,1184.2 1849.3,1180.9 1851.3,1179.0C1853.2,1177.1 1854.7,1175.9 1856.8,1176.5C1858.9,1177.1 1861.4,1179.8 1863.8,1182.8C1866.2,1185.7 1868.6,1190.3 1871.3,1194.0C1874.0,1197.8 1877.2,1202.6 1880.1,1205.3C1883.0,1208.0 1886.3,1209.7 1888.8,1210.3C1891.3,1210.9 1892.6,1210.2 1895.1,1209.0C1897.6,1207.9 1900.7,1205.2 1903.9,1203.3C1907.0,1201.4 1910.5,1200.4 1913.9,1197.8C1917.2,1195.2 1921.2,1191.5 1923.9,1187.8C1926.6,1184.0 1928.1,1180.7 1930.1,1175.2C1932.2,1169.8 1934.5,1160.3 1936.4,1155.2C1938.3,1150.1 1939.7,1146.8 1941.4,1144.7C1943.1,1142.6 1944.5,1142.2 1946.4,1142.7C1948.3,1143.2 1950.6,1146.5 1952.7,1147.7C1954.8,1148.9 1956.4,1149.3 1958.9,1149.7C1961.4,1150.1 1965.0,1149.5 1967.7,1150.2C1970.4,1150.9 1972.7,1151.9 1975.2,1154.0C1977.7,1156.0 1980.0,1159.8 1982.7,1162.7C1985.4,1165.6 1987.9,1169.0 1991.5,1171.5C1995.0,1174.0 1999.8,1175.8 2004.0,1177.7C2008.2,1179.7 2012.3,1182.0 2016.5,1183.3C2020.7,1184.5 2025.3,1184.7 2029.0,1185.3C2032.8,1185.8 2036.1,1185.7 2039.0,1186.5C2042.0,1187.3 2044.1,1188.4 2046.6,1190.3C2049.1,1192.1 2051.8,1195.8 2054.1,1197.8C2056.4,1199.8 2058.2,1202.1 2060.3,1202.3C2062.4,1202.5 2064.5,1201.2 2066.6,1199.0C2068.7,1196.8 2070.5,1192.8 2072.8,1189.0C2075.1,1185.3 2077.8,1179.8 2080.4,1176.5C2082.9,1173.2 2085.6,1170.5 2087.9,1169.0C2090.2,1167.4 2091.8,1167.0 2094.1,1167.2C2096.4,1167.4 2099.3,1169.4 2101.6,1170.2C2103.9,1171.1 2105.8,1172.7 2107.9,1172.2C2110.0,1171.8 2112.1,1169.7 2114.1,1167.7C2116.2,1165.7 2118.1,1162.2 2120.4,1160.2C2122.7,1158.2 2125.2,1157.2 2127.9,1155.7C2130.6,1154.3 2135.2,1152.2 2136.7,1151.5" stroke="#00b050"/>
</g>
<g stroke="#ff0000" stroke-dasharray="24.3 16.25">
<line x1="482.0" y1="348.7" x2="482.0" y2="1227.8" stroke-width="6"/>
<line x1="638.4" y1="346.7" x2="638.4" y2="1227.8" stroke-width="7"/>
<line x1="671.4" y1="346.7" x2="671.4" y2="1227.8" stroke-width="7"/>
<line x1="1044.5" y1="350.2" x2="1044.5" y2="1227.8" stroke-width="6.8"/>
<line x1="1102.4" y1="346.7" x2="1102.4" y2="1227.8" stroke-width="6.8"/>
<line x1="1143.1" y1="346.7" x2="1143.1" y2="1227.8" stroke-width="6"/>
<line x1="1352.9" y1="349.2" x2="1352.9" y2="1227.8" stroke-width="6"/>
</g>
<g stroke="#000" stroke-width="5.4">
<line x1="330.5" y1="1224.8" x2="330.5" y2="1243"/>
<line x1="555.0" y1="1224.8" x2="555.0" y2="1243"/>
<line x1="779.6" y1="1224.8" x2="779.6" y2="1243"/>
<line x1="1004.1" y1="1224.8" x2="1004.1" y2="1243"/>
<line x1="1228.7" y1="1224.8" x2="1228.7" y2="1243"/>
<line x1="1453.2" y1="1224.8" x2="1453.2" y2="1243"/>
<line x1="1677.7" y1="1224.8" x2="1677.7" y2="1243"/>
<line x1="1902.3" y1="1224.8" x2="1902.3" y2="1243"/>
<line x1="2126.8" y1="1224.8" x2="2126.8" y2="1243"/>
</g>
<g class="san" font-size="49" text-anchor="middle" fill="#000" stroke="#000" stroke-width="0.5">
<text x="330.8" y="1311">1700</text>
<text x="555.3" y="1311">1550</text>
<text x="779.9" y="1311">1400</text>
<text x="1004.4" y="1311">1250</text>
<text x="1229.0" y="1311">1100</text>
<text x="1453.5" y="1311">950</text>
<text x="1678.0" y="1311">800</text>
<text x="1902.6" y="1311">650</text>
<text x="2127.1" y="1311">500</text>
</g>
<g stroke-width="10" stroke-linecap="round">
<line x1="1666" y1="85.0" x2="1782.2" y2="85.0" stroke="#00b050"/>
<line x1="1666" y1="169.1" x2="1782.2" y2="169.1" stroke="#000"/>
<line x1="1666" y1="252.0" x2="1782.2" y2="252.0" stroke="#c00000"/>
<line x1="1666" y1="336.3" x2="1782.2" y2="336.3" stroke="#4472c4"/>
</g>
<g class="san" fill="#000" stroke="#000" stroke-width="0.6">
<text x="1793.7" y="103.4" font-size="58.0" textLength="177.1" lengthAdjust="spacingAndGlyphs">S-PEEK</text>
<text x="1793.5" y="186.7" font-size="58.0" textLength="177.6" lengthAdjust="spacingAndGlyphs">SP-Z80</text>
<text x="1793.6" y="270.0" font-size="57.8" textLength="266.6" lengthAdjust="spacingAndGlyphs">SP-Z80-G5</text>
<text x="1793.5" y="354.3" font-size="58.0" textLength="224.4" lengthAdjust="spacingAndGlyphs">SAPO-34</text>
</g>
<g class="ser" fill="#ff0000">
<text x="280.6" y="196.4" font-size="63.2" textLength="115.6" lengthAdjust="spacingAndGlyphs">C=C</text>
<text><tspan x="629.0" y="80.7" font-size="62.6" textLength="76.4" lengthAdjust="spacingAndGlyphs">SO</tspan><tspan x="705.2" y="95.2" font-size="44.2" textLength="18.2" lengthAdjust="spacingAndGlyphs">3</tspan><tspan x="724.3" y="80.7" font-size="62.3" textLength="45.4" lengthAdjust="spacingAndGlyphs">H</tspan></text>
<text><tspan x="836.2" y="79.2" font-size="60.4" textLength="276.7" lengthAdjust="spacingAndGlyphs">asymmetric</tspan> <tspan x="1133.1" y="79.2" font-size="60.3" textLength="100.7" lengthAdjust="spacingAndGlyphs">T-O</tspan></text>
<text x="786.5" y="192.9" font-size="63.0" textLength="163.4" lengthAdjust="spacingAndGlyphs">C-O-C</text>
<text x="1031.9" y="193.9" font-size="63.0" textLength="102.8" lengthAdjust="spacingAndGlyphs">C-H</text>
<text x="1394.8" y="145.2" font-size="63.8" textLength="111.2" lengthAdjust="spacingAndGlyphs">S=O</text>
<text x="1394.8" y="214.3" font-size="60.7" textLength="194.3" lengthAdjust="spacingAndGlyphs">bending</text>
</g>
<polygon points="513,171.5 545,107.3 623.5,107.3 655.5,171.5 623.5,236 545,236" fill="none" stroke="#ff3300" stroke-width="6.5" stroke-linejoin="miter"/>
<line x1="620" y1="105.5" x2="637.5" y2="91.3" stroke="#ff0000" stroke-width="6" stroke-linecap="butt"/>
<line x1="402.4" y1="213.9" x2="460.2" y2="309.5" stroke="#ff0000" stroke-width="6.2"/><polygon points="478.5,339.7 443.2,317.4 475.2,298.1" fill="#ff0000"/>
<line x1="414.1" y1="216.1" x2="616.6" y2="318.7" stroke="#ff0000" stroke-width="6.2"/><polygon points="648.1,334.6 606.4,334.4 623.2,301.1" fill="#ff0000"/>
<line x1="683.4" y1="154.0" x2="675.0" y2="305.9" stroke="#ff0000" stroke-width="6.2"/><polygon points="673.0,341.1 656.4,302.8 693.7,304.9" fill="#ff0000"/>
<line x1="893.4" y1="219.8" x2="1017.9" y2="313.2" stroke="#ff0000" stroke-width="6.2"/><polygon points="1046.1,334.4 1005.1,326.9 1027.5,297.1" fill="#ff0000"/>
<line x1="893.4" y1="219.8" x2="1065.7" y2="311.4" stroke="#ff0000" stroke-width="6.2"/><polygon points="1096.9,328.0 1055.2,327.0 1072.7,294.0" fill="#ff0000"/>
<line x1="1095.4" y1="217.9" x2="1128.0" y2="298.1" stroke="#ff0000" stroke-width="6.2"/><polygon points="1141.3,330.8 1110.0,303.3 1144.5,289.2" fill="#ff0000"/>
<line x1="1055.9" y1="98.4" x2="1208.8" y2="152.3" stroke="#ff0000" stroke-width="6.2"/><polygon points="1242.1,164.0 1200.7,169.2 1213.1,134.0" fill="#ff0000"/>
<line x1="1452.6" y1="243.4" x2="1380.5" y2="312.3" stroke="#ff0000" stroke-width="6.2"/><polygon points="1355.0,336.7 1369.1,297.4 1394.8,324.4" fill="#ff0000"/>
<text class="ser" font-size="96.9" fill="#000" transform="translate(99.9,913.2) rotate(-90)">Assorbance</text>
<text class="ser" fill="#000"><tspan x="761.8" y="1435.5" font-size="97.8" textLength="509.1" lengthAdjust="spacingAndGlyphs">Wavenumber</tspan> <tspan x="1297.0" y="1440.1" font-size="102.1" textLength="31.4" lengthAdjust="spacingAndGlyphs">[</tspan><tspan x="1327.9" y="1435.4" font-size="93.6" textLength="117.9" lengthAdjust="spacingAndGlyphs">cm</tspan><tspan x="1444.6" y="1406.4" font-size="66.5" textLength="65.1" lengthAdjust="spacingAndGlyphs">−1</tspan><tspan x="1515.4" y="1440.1" font-size="102.1" textLength="32.0" lengthAdjust="spacingAndGlyphs">]</tspan></text>
</svg></body></html>
